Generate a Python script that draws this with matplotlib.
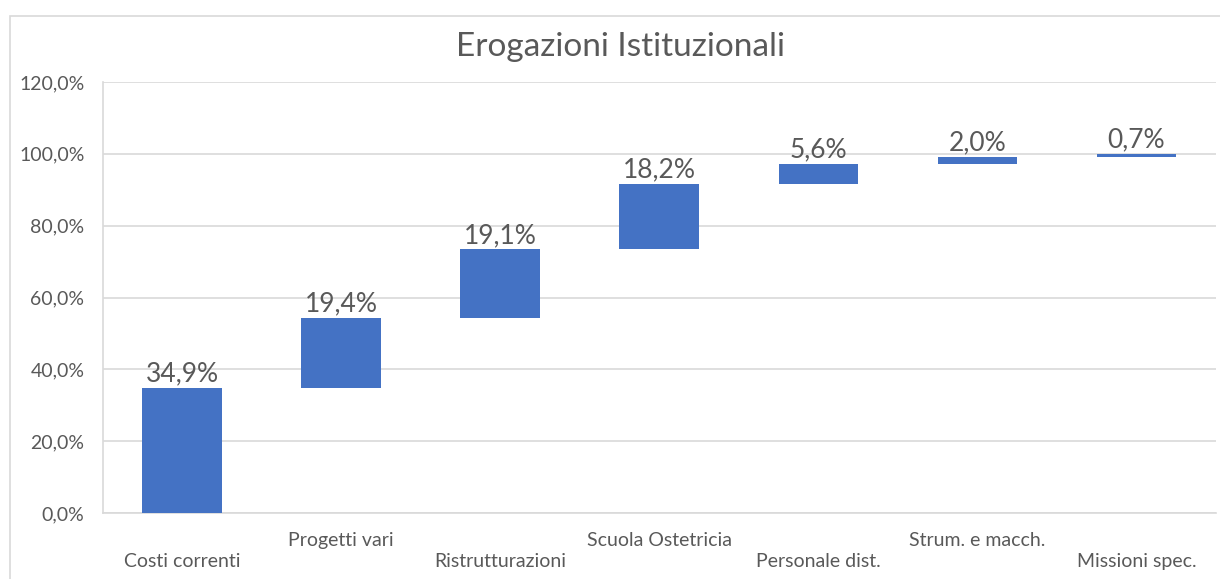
import numpy as np
import matplotlib.pyplot as plt
from matplotlib.patches import Rectangle
from matplotlib.ticker import FuncFormatter

# Waterfall of institutional disbursements (share of total, %)
categories = ['Costi correnti', 'Progetti vari', 'Ristrutturazioni', 'Scuola Ostetricia',
              'Personale dist.', 'Strum. e macch.', 'Missioni spec.']
values = [34.9, 19.4, 19.1, 18.2, 5.6, 2.0, 0.7]

plt.rcParams['font.family'] = ['Lato', 'DejaVu Sans']
grey_text = '#595959'
grid_col = '#D9D9D9'
bar_col = '#4472C4'

fig = plt.figure(figsize=(12.2, 5.79), dpi=100)
fig.patches.append(Rectangle((10 / 1220, -0.05), 1.1, (579 - 16) / 579 + 0.05,
                             transform=fig.transFigure, fill=False,
                             edgecolor=grid_col, linewidth=1.2))

ax = fig.add_axes([102.5 / 1220, 1 - 513 / 579, (1216 - 102.5) / 1220, (513 - 82) / 579])

x = np.arange(len(categories))
bottoms = np.concatenate([[0], np.cumsum(values)[:-1]])
ax.bar(x, values, bottom=bottoms, width=0.5, color=bar_col, zorder=3)

for xi, b, v in zip(x, bottoms, values):
    ax.annotate(f'{v:.1f}%'.replace('.', ','), (xi, b + v), xytext=(0, 1),
                textcoords='offset points', ha='center', va='bottom',
                fontsize=19, color=grey_text, zorder=4)

ax.set_xlim(-0.5, len(categories) - 0.5)
ax.set_ylim(0, 120)
ax.set_yticks(np.arange(0, 121, 20))
ax.yaxis.set_major_formatter(FuncFormatter(lambda v, p: f'{v:.1f}%'.replace('.', ',')))
ax.grid(axis='y', color=grid_col, linewidth=1.2, zorder=0)

# staggered category labels
ax.set_xticks(x)
ax.set_xticklabels([('\n' + c) if i % 2 == 0 else c for i, c in enumerate(categories)])
for lab in ax.get_xticklabels():
    lab.set_linespacing(1.25)
ax.tick_params(axis='x', length=0, pad=14, labelsize=14, labelcolor=grey_text)
ax.tick_params(axis='y', length=0, pad=13, labelsize=14, labelcolor=grey_text)

for s in ['top', 'right']:
    ax.spines[s].set_visible(False)
for s in ['left', 'bottom']:
    ax.spines[s].set_color(grid_col)
    ax.spines[s].set_linewidth(1.2)

fig.text(620 / 1220, 1 - 47 / 579, 'Erogazioni Istituzionali', ha='center', va='center',
         fontsize=24, color=grey_text)

fig.savefig('out.png', dpi=100)
